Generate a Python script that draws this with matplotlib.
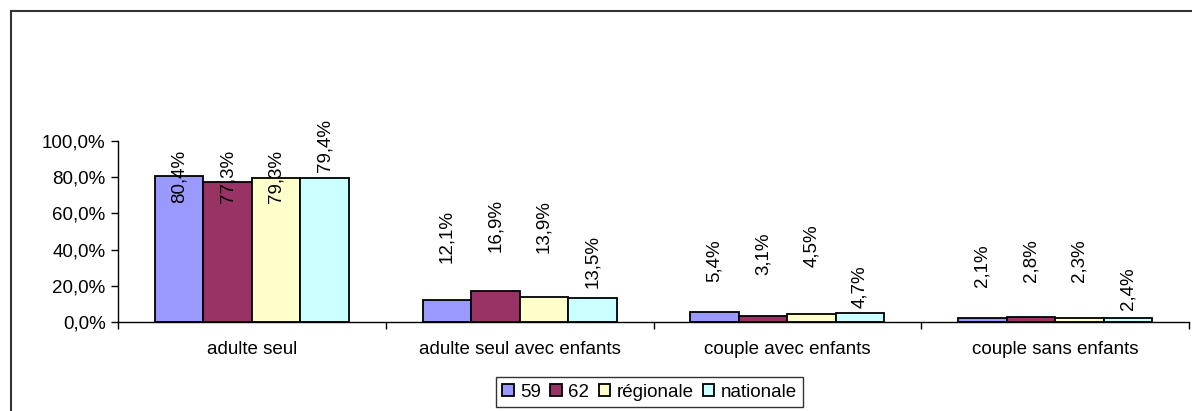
import numpy as np
import matplotlib.pyplot as plt
from matplotlib.lines import Line2D
from matplotlib.ticker import FuncFormatter

plt.rcParams['font.family'] = ['Liberation Sans', 'DejaVu Sans']

categories = ['adulte seul', 'adulte seul avec enfants', 'couple avec enfants', 'couple sans enfants']
series = ['59', '62', 'régionale', 'nationale']
v59 = [80.4, 12.1, 5.4, 2.1]
v62 = [77.3, 16.9, 3.1, 2.8]
vreg = [79.3, 13.9, 4.5, 2.3]
vnat = [79.4, 13.5, 4.7, 2.4]
values = [v59, v62, vreg, vnat]
colors = ['#9999FF', '#993366', '#FFFFCC', '#CCFFFF']

# where Excel left the rotated labels (bottom of text, in % units)
label_bottom = [
    [65.7, 32.6, 22.0, 19.3],
    [65.7, 38.7, 26.0, 22.0],
    [66.0, 38.0, 30.4, 22.0],
    [82.9, 18.8, 7.7, 6.6],
]

fs = 13.5

fig = plt.figure(figsize=(11.92, 4.11), dpi=100)
ax = fig.add_axes([118 / 1192, 89 / 411, 1071 / 1192, 181 / 411])

x = np.arange(len(categories))
w = 0.181
for i, (vals, col) in enumerate(zip(values, colors)):
    pos = x + (i - 1.5) * w
    ax.bar(pos, vals, width=w, color=col, edgecolor='black', linewidth=1.3, label=series[i])
    for p, v, lb in zip(pos, vals, label_bottom[i]):
        ax.text(p, lb, f'{v:.1f}%'.replace('.', ','), rotation=90, ha='center', va='bottom',
                fontsize=fs, clip_on=False)

ax.set_xlim(-0.5, len(categories) - 0.5)
ax.set_ylim(0, 100)
ax.set_yticks(np.arange(0, 101, 20))
ax.yaxis.set_major_formatter(FuncFormatter(lambda v, _: f'{v:.1f}%'.replace('.', ',')))
ax.set_xticks(np.arange(-0.5, len(categories), 1))
ax.set_xticklabels([])
ax.set_xticks(x, minor=True)
ax.set_xticklabels(categories, minor=True)
ax.tick_params(axis='x', which='major', direction='out', length=5, width=1)
ax.tick_params(axis='x', which='minor', length=0, pad=14, labelsize=fs)
ax.tick_params(axis='y', direction='out', length=5, width=1, pad=4, labelsize=fs)
for s in ['top', 'right']:
    ax.spines[s].set_visible(False)
for s in ['left', 'bottom']:
    ax.spines[s].set_linewidth(1)

leg = ax.legend(loc='center', bbox_to_anchor=(649.5 / 1192, 1 - 392 / 411), bbox_transform=fig.transFigure,
                ncol=4, fontsize=fs, frameon=True, fancybox=False, handlelength=0.6, handleheight=0.6,
                handletextpad=0.35, columnspacing=0.5, borderpad=0.35, borderaxespad=0)
leg.get_frame().set_edgecolor('black')
leg.get_frame().set_linewidth(1)

# outer chart frame (only top and left visible in the crop)
fig.add_artist(Line2D([11 / 1192, 1], [1 - 11.5 / 411, 1 - 11.5 / 411], color='#333333', lw=1.5))
fig.add_artist(Line2D([11 / 1192, 11 / 1192], [0, 1 - 11.5 / 411], color='#333333', lw=1.5))

fig.savefig('out.png', dpi=100)
